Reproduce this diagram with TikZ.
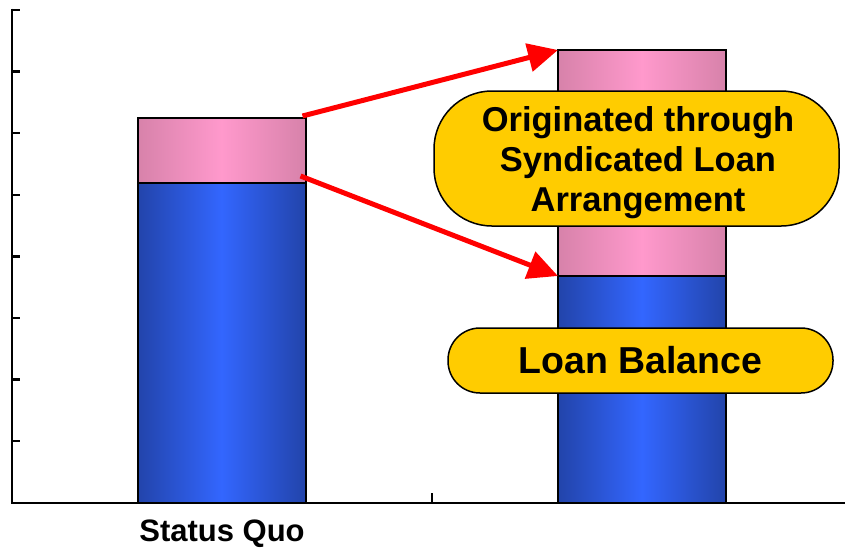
\documentclass[tikz,border=0pt]{standalone}
\usepackage{fontspec}
\setmainfont{Liberation Sans}
\usetikzlibrary{arrows.meta}
\definecolor{bluedark}{HTML}{2244AA}
\definecolor{bluelight}{HTML}{3366FF}
\definecolor{pinkdark}{HTML}{D782AA}
\definecolor{pinklight}{HTML}{FF99CC}
\definecolor{gold}{HTML}{FFCC00}
\tikzset{
  bluebar/.style={draw=black, line width=2pt, left color=bluedark, right color=bluedark, middle color=bluelight, minimum width=168pt, inner sep=0pt, outer sep=0pt},
  pinkbar/.style={draw=black, line width=2pt, left color=pinkdark, right color=pinkdark, middle color=pinklight, minimum width=168pt, inner sep=0pt, outer sep=0pt},
  pill/.style={draw=black, line width=1.5pt, fill=gold, inner sep=0pt},
  pilltext/.style={inner sep=0pt, align=center},
  redarrow/.style={draw=red, line width=5pt, -{Triangle[length=30pt, width=28pt]}},
  axisline/.style={line width=2.5pt, black},
}
\begin{document}
\begin{tikzpicture}[x=1pt, y=-1pt]
\useasboundingbox (0,0) rectangle (845,547);
% axes
\draw[axisline] (12,8.5) -- (12,503) -- (845,503);
\foreach \t in {10,71.6,133.2,194.8,256.4,318,379.6,441.2}
  \draw[line width=2.5pt] (11,\t) -- (20,\t);
\draw[line width=2pt] (432,503) -- (432,493);
% bars
\node[bluebar, minimum height=320pt] (blue1) at (221.5,343) {};
\node[pinkbar, minimum height=65pt] (pink1) at (221.5,150.5) {};
\node[bluebar, minimum height=227pt] (blue2) at (642,389.5) {};
\node[pinkbar, minimum height=226pt] (pink2) at (642,163) {};
% arrows
\coordinate (a1s) at ([xshift=-3pt,yshift=2pt]pink1.north east);
\coordinate (a2s) at ([xshift=-5pt,yshift=7pt]blue1.north east);
\draw[redarrow] (a1s) -- (pink2.north west);
\draw[redarrow] (a2s) -- (blue2.north west);
% labels
\node[pill, rounded corners=58pt, minimum width=405pt, minimum height=135pt] (orig) at (636.5,158.5) {};
\node[pilltext, font=\bfseries\fontsize{34.5}{40}\selectfont] (origtext) at (638,163) {Originated through\\Syndicated Loan\\Arrangement};
\node[pill, rounded corners=32pt, minimum width=385pt, minimum height=65pt, font=\bfseries\fontsize{37.5}{44}\selectfont] (bal) at (640.5,360.5) {Loan Balance};
\node[font=\bfseries\fontsize{31}{36}\selectfont, inner sep=0pt] (sq) at (222,534) {Status Quo};
\end{tikzpicture}
\end{document}
